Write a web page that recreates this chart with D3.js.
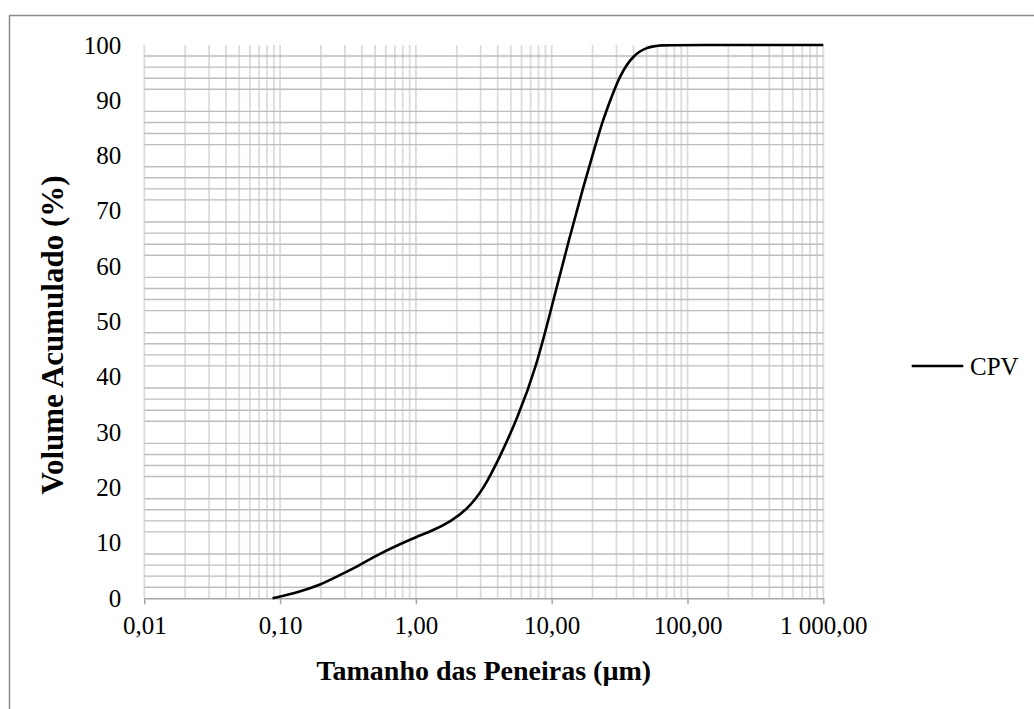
<!DOCTYPE html>
<html><head><meta charset="utf-8">
<script src="https://cdn.jsdelivr.net/npm/d3@7"></script>
<style>body{margin:0;background:#fff}svg{display:block}text{font-family:"Liberation Serif","Times New Roman",serif}</style>
</head><body><svg id="c" width="1034" height="709"></svg>
<script>
const seriesName = "CPV";
const sizes = [0.088,0.14,0.197,0.276,0.387,0.544,0.764,1.01,1.34,1.78,2.37,3.13,4.16,5.52,7.75,10.28,13.6,17.1,20.5,23.5,27.0,31.8,39.9,50.1,62.7,100,1000];
const volumes = [0,1.2,2.4,4.2,6.0,8.1,9.8,11.1,12.3,13.8,16.0,19.6,25.6,32.2,41.9,53.9,65.4,74.4,81.0,86.0,90.0,94.6,98.2,99.6,100,100,100];
const xTickValues = [0.01,0.1,1,10,100,1000];
const xTickLabels = ["0,01","0,10","1,00","10,00","100,00","1 000,00"];
const yTickValues = [0,10,20,30,40,50,60,70,80,90,100];
const xTitle = "Tamanho das Peneiras (µm)";
const yTitle = "Volume Acumulado (%)";

const svg = d3.select("#c");
const L=144.3, R=823.3, T=45, B=598.3;
const x = d3.scaleLog().domain([0.01,1000]).range([L,R]);
const y = d3.scaleLinear().domain([0,100]).range([B,T]);

svg.append("rect").attr("x",9.5).attr("y",15.5).attr("width",1040).attr("height",720)
  .attr("fill","none").attr("stroke","#8c8c8c").attr("stroke-width",1.5);

// vertical gridlines
const vg=[];
for(let d=-2; d<3; d++) for(let k=1;k<10;k++) vg.push(k*Math.pow(10,d));
vg.push(1000);
svg.append("g").selectAll("line").data(vg).join("line")
  .attr("x1",d=>x(d)).attr("x2",d=>x(d)).attr("y1",T).attr("y2",B)
  .attr("stroke","#dcdcdc").attr("stroke-width",1.8);
// horizontal minor gridlines
const hg=d3.range(2,100,2).filter(v=>v%10!==0);
svg.append("g").selectAll("line").data(hg).join("line")
  .attr("x1",L).attr("x2",R).attr("y1",d=>y(d)).attr("y2",d=>y(d))
  .attr("stroke","#bdbdbd").attr("stroke-width",1.4);

// x axis
const xa = svg.append("g").attr("transform",`translate(0,${B})`)
  .call(d3.axisBottom(x).tickValues(xTickValues).tickFormat((d,i)=>xTickLabels[i]).tickSize(6).tickSizeOuter(0).tickPadding(12));
xa.select(".domain").attr("stroke","#a6a6a6").attr("stroke-width",1.5);
xa.selectAll(".tick line").attr("stroke","#a6a6a6").attr("stroke-width",1.5);
xa.selectAll("text").attr("font-size",25).attr("fill","#000").attr("font-family","Liberation Serif");

// y axis labels
const ya = svg.append("g").attr("transform",`translate(${L},0)`)
  .call(d3.axisLeft(y).tickValues(yTickValues).tickSize(0).tickPadding(23));
ya.select(".domain").remove();
ya.selectAll("text").attr("font-size",25).attr("fill","#000").attr("font-family","Liberation Serif");

// curve
const line = d3.line().x((d,i)=>x(sizes[i])).y(d=>y(d)).curve(d3.curveBasis);
svg.append("path").attr("d",line(volumes)).attr("fill","none").attr("stroke","#000").attr("stroke-width",2.6);

// titles
svg.append("text").attr("x",(L+R)/2).attr("y",680).attr("text-anchor","middle")
  .attr("font-size",28).attr("font-weight","bold").text(xTitle);
svg.append("text").attr("transform",`translate(63,335) rotate(-90)`).attr("text-anchor","middle")
  .attr("font-size",31).attr("font-weight","bold").text(yTitle);

// legend
svg.append("line").attr("x1",911.7).attr("x2",963.3).attr("y1",366).attr("y2",366).attr("stroke","#000").attr("stroke-width",2.6);
svg.append("text").attr("x",970).attr("y",374.5).attr("font-size",25).text(seriesName);
</script></body></html>
